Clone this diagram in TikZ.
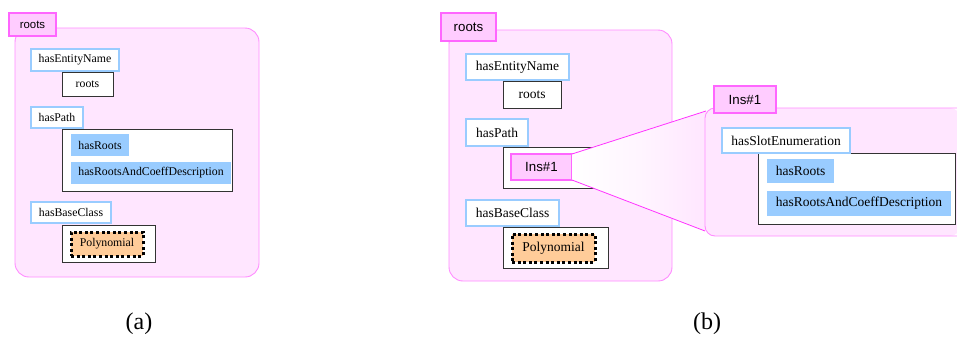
\documentclass[tikz,border=0pt]{standalone}
\usepackage{fontspec}
\setmainfont{Liberation Serif}
\setsansfont{Liberation Sans}
\definecolor{pinkbg}{HTML}{FFE6FF}
\definecolor{pinkline}{HTML}{FF8CFF}
\definecolor{tagfill}{HTML}{FFCCFF}
\definecolor{tagline}{HTML}{FF66FF}
\definecolor{fanline}{HTML}{FF33FF}
\definecolor{slotblue}{HTML}{99CCFF}
\definecolor{peach}{HTML}{FFCC99}
% \place{name}{style}{x1}{y1}{x2}{y2}{text}: a node filling the given box
\newcommand\place[7]{%
  \node[#2, minimum width={(#5)-(#3)}, minimum height={(#6)-(#4)},
        inner sep=0pt, outer sep=0pt]
    (#1) at ({((#3)+(#5))/2},{((#4)+(#6))/2}) {#7};}
\begin{document}
\begin{tikzpicture}[x=1pt,y=-1pt,
  bigbox/.style={fill=pinkbg, draw=pinkline, line width=0.9pt, rounded corners=14pt},
  tagbox/.style={fill=tagfill, draw=tagline, line width=2.8pt},
  slotbox/.style={fill=white, draw=slotblue, line width=2.4pt},
  valbox/.style={fill=white, draw=black!80, line width=1pt},
  itembox/.style={fill=slotblue},
  classbox/.style={fill=peach, draw=black, line width=3pt, dash pattern=on 3pt off 2.6pt},
  fsa/.style={font=\fontsize{11.8}{14}\selectfont},
  fsb/.style={font=\fontsize{13.5}{16}\selectfont},
  tga/.style={font=\fontsize{11.4}{13}\sffamily},
  tgb/.style={font=\fontsize{13.3}{15}\sffamily},
  fan/.style={draw=fanline, line width=0.8pt},
  caption/.style={font=\fontsize{24}{28}\selectfont}]
\useasboundingbox (0,0) rectangle (957,338);

% ---------- panel (a) ----------
\place{aframe}{bigbox}{15}{28}{259}{277}{}
\place{atag}{tagbox,tga}{9}{13}{56}{36}{roots}
\place{aname}{valbox,fsa}{62}{72}{113}{96}{roots}
\place{aslotname}{slotbox,fsa}{31}{49}{119}{71}{hasEntityName}
\place{apath}{valbox}{62}{129}{232}{191}{}
\place{apath1}{itembox,fsa}{71}{134}{129}{156}{hasRoots}
\place{apath2}{itembox,fsa}{71}{162}{231}{184}{hasRootsAndCoeffDescription}
\place{aslotpath}{slotbox,fsa}{31}{107}{83}{128}{hasPath}
\place{abase}{valbox}{62}{225}{155}{262}{}
\place{apoly}{classbox,fsa}{71}{232}{143}{256}{Polynomial}
\place{aslotbase}{slotbox,fsa}{31}{202}{111}{223}{hasBaseClass}
\node[caption] (capa) at (139,324) {(a)};

% ---------- panel (b) ----------
\place{bframe}{bigbox}{449}{30}{672}{281}{}
\place{btag}{tagbox,tgb}{441}{13}{496}{41}{roots}
\place{bname}{valbox,fsb}{503}{81}{561}{108}{roots}
\place{bslotname}{slotbox,fsb}{466}{54}{569}{80}{hasEntityName}
\place{bpath}{valbox}{503}{147}{596}{188}{}
\place{bins}{tagbox,tgb}{511}{154}{572}{180}{Ins\#1}
\place{bslotpath}{slotbox,fsb}{466}{119}{528}{146}{hasPath}
\place{bbase}{valbox}{503}{227}{608}{268}{}
\place{bpoly}{classbox,fsb}{512}{234}{595}{262}{Polynomial}
\place{bslotbase}{slotbox,fsb}{466}{200}{559}{226}{hasBaseClass}

% zoom fan from the Ins#1 slot to its expanded frame
\coordinate (rtop) at (706,111);
\coordinate (rbot) at (705,231);
\shade[left color=white, right color=pinkbg, middle color=white!60!pinkbg]
  (bins.north east) -- (rtop) -- (rbot) -- (bins.south east) -- cycle;
\draw[fan] (bins.north east) -- (rtop);
\draw[fan] (bins.south east) -- (rbot);

% expanded Ins#1 frame, running off the right edge
\fill[pinkbg, rounded corners=10pt] (960,108) -- (705,108) -- (705,236) -- (960,236) -- cycle;
\draw[pinkline, line width=0.9pt, rounded corners=10pt] (960,108) -- (705,108) -- (705,236) -- (960,236);
\place{rtag}{tagbox,tgb}{714}{86}{776}{113}{Ins\#1}
\place{renum}{valbox}{758}{153}{955}{224}{}
\place{renum1}{itembox,fsb}{767}{159}{834}{183}{hasRoots}
\place{renum2}{itembox,fsb}{767}{191}{951}{216}{hasRootsAndCoeffDescription}
\place{rslot}{slotbox,fsb}{722}{128}{850}{153}{hasSlotEnumeration}
\node[caption] (capb) at (707,324) {(b)};
\end{tikzpicture}
\end{document}
